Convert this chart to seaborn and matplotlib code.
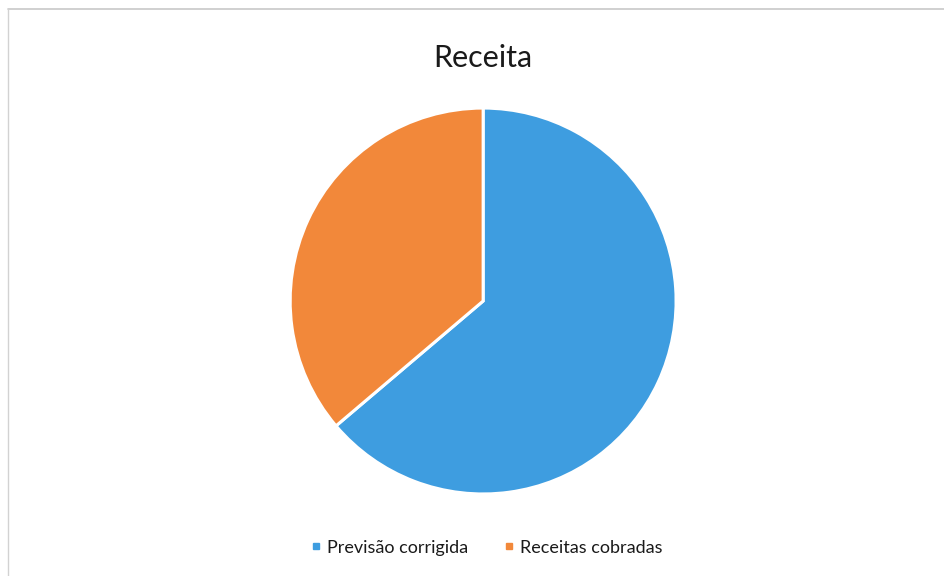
import matplotlib
matplotlib.use("Agg")
import matplotlib.pyplot as plt
from matplotlib.lines import Line2D
import seaborn as sns

# data (shares of the pie)
labels = ["Previsão corrigida", "Receitas cobradas"]
values = [63.8, 36.2]
colors = ["#3E9DE0", "#F2883A"]

sns.set_theme(style="white")
plt.rcParams['font.family'] = ['Lato', 'DejaVu Sans']

fig = plt.figure(figsize=(9.45, 5.76), dpi=100)
ax = fig.add_axes([0.307, 0.1424, 0.4085, 0.670])

ax.pie(values, colors=colors, startangle=90, counterclock=False,
       wedgeprops=dict(edgecolor="white", linewidth=2.2))
ax.set_xlim(-1.0, 1.0)
ax.set_ylim(-1.0, 1.0)

fig.text(0.511, 0.90, "Receita", ha="center", va="center",
         fontsize=22, color="#1a1a1a")

# thin chart-area border visible on top and left
fig.add_artist(Line2D([0.008, 1.0], [0.984, 0.984], color="#c8c8c8", lw=1.2))
fig.add_artist(Line2D([0.008, 0.008], [0.0, 0.984], color="#d2d2d2", lw=1.0))

handles = [Line2D([], [], marker="s", linestyle="", color=c, markersize=5)
           for c in colors]
fig.legend(handles, labels, loc="center", bbox_to_anchor=(0.515, 0.049),
           ncol=2, frameon=False, fontsize=13, handlelength=0.6,
           handletextpad=0.3, columnspacing=2.0, labelcolor="#1a1a1a")

fig.savefig("out.png", dpi=100, facecolor="white")
